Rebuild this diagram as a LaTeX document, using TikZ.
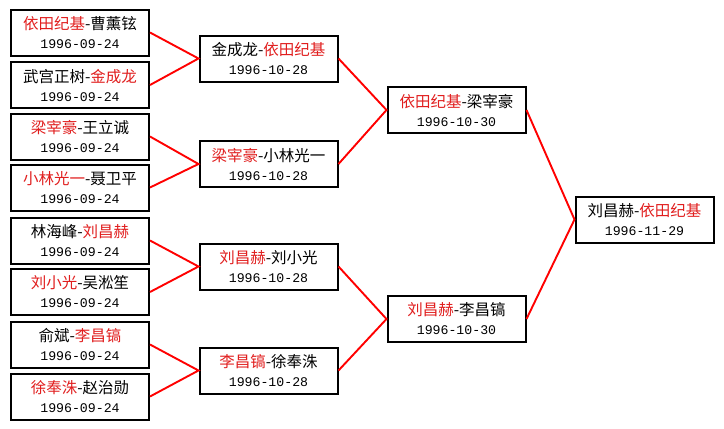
\documentclass[tikz,border=0pt]{standalone}
\usepackage{fontspec}
\newfontfamily\cjk{Noto Sans CJK SC}
\newfontfamily\datefont{Liberation Mono}
\definecolor{winred}{RGB}{225,30,30}
\newcommand{\rd}[1]{\textcolor{winred}{#1}}
\newcommand{\dt}[1]{{\datefont\fontsize{13.2}{19}\selectfont #1}}
\tikzset{
  game/.style={draw=black, line width=2pt, fill=white, minimum width=138pt, minimum height=46pt,
    inner sep=0pt, align=center, font=\cjk\fontsize{15.5}{19}\selectfont},
  link/.style={draw=red, line width=1.9pt}
}
\begin{document}
\begin{tikzpicture}[x=1pt, y=-1pt]
	\useasboundingbox[fill=white] (0,0) rectangle (724,429);
	% first round
	\node[game] (a1) at (80,32.5) {\rd{依田纪基}-曹薰铉\\\dt{1996-09-24}};
	\node[game] (a2) at (80,85) {武宫正树-\rd{金成龙}\\\dt{1996-09-24}};
	\node[game] (a3) at (80,136.5) {\rd{梁宰豪}-王立诚\\\dt{1996-09-24}};
	\node[game] (a4) at (80,187.5) {\rd{小林光一}-聂卫平\\\dt{1996-09-24}};
	\node[game] (a5) at (80,240.5) {林海峰-\rd{刘昌赫}\\\dt{1996-09-24}};
	\node[game] (a6) at (80,292) {\rd{刘小光}-吴淞笙\\\dt{1996-09-24}};
	\node[game] (a7) at (80,344.5) {俞斌-\rd{李昌镐}\\\dt{1996-09-24}};
	\node[game] (a8) at (80,396.5) {\rd{徐奉洙}-赵治勋\\\dt{1996-09-24}};
	% second round
	\node[game] (b1) at (268.5,58.5) {金成龙-\rd{依田纪基}\\\dt{1996-10-28}};
	\node[game] (b2) at (268.5,164) {\rd{梁宰豪}-小林光一\\\dt{1996-10-28}};
	\node[game] (b3) at (268.5,266.5) {\rd{刘昌赫}-刘小光\\\dt{1996-10-28}};
	\node[game] (b4) at (268.5,370.5) {\rd{李昌镐}-徐奉洙\\\dt{1996-10-28}};
	% semi-finals
	\node[game] (c1) at (456.5,110) {\rd{依田纪基}-梁宰豪\\\dt{1996-10-30}};
	\node[game] (c2) at (456.5,319) {\rd{刘昌赫}-李昌镐\\\dt{1996-10-30}};
	% final
	\node[game] (d1) at (644.5,219.5) {刘昌赫-\rd{依田纪基}\\\dt{1996-11-29}};
	% links
	\draw[link] (a1.east) -- (b1.west) -- (a2.east);
	\draw[link] (a3.east) -- (b2.west) -- (a4.east);
	\draw[link] (a5.east) -- (b3.west) -- (a6.east);
	\draw[link] (a7.east) -- (b4.west) -- (a8.east);
	\draw[link] (b1.east) -- (c1.west) -- (b2.east);
	\draw[link] (b3.east) -- (c2.west) -- (b4.east);
	\draw[link] (c1.east) -- (d1.west) -- (c2.east);
\end{tikzpicture}
\end{document}
